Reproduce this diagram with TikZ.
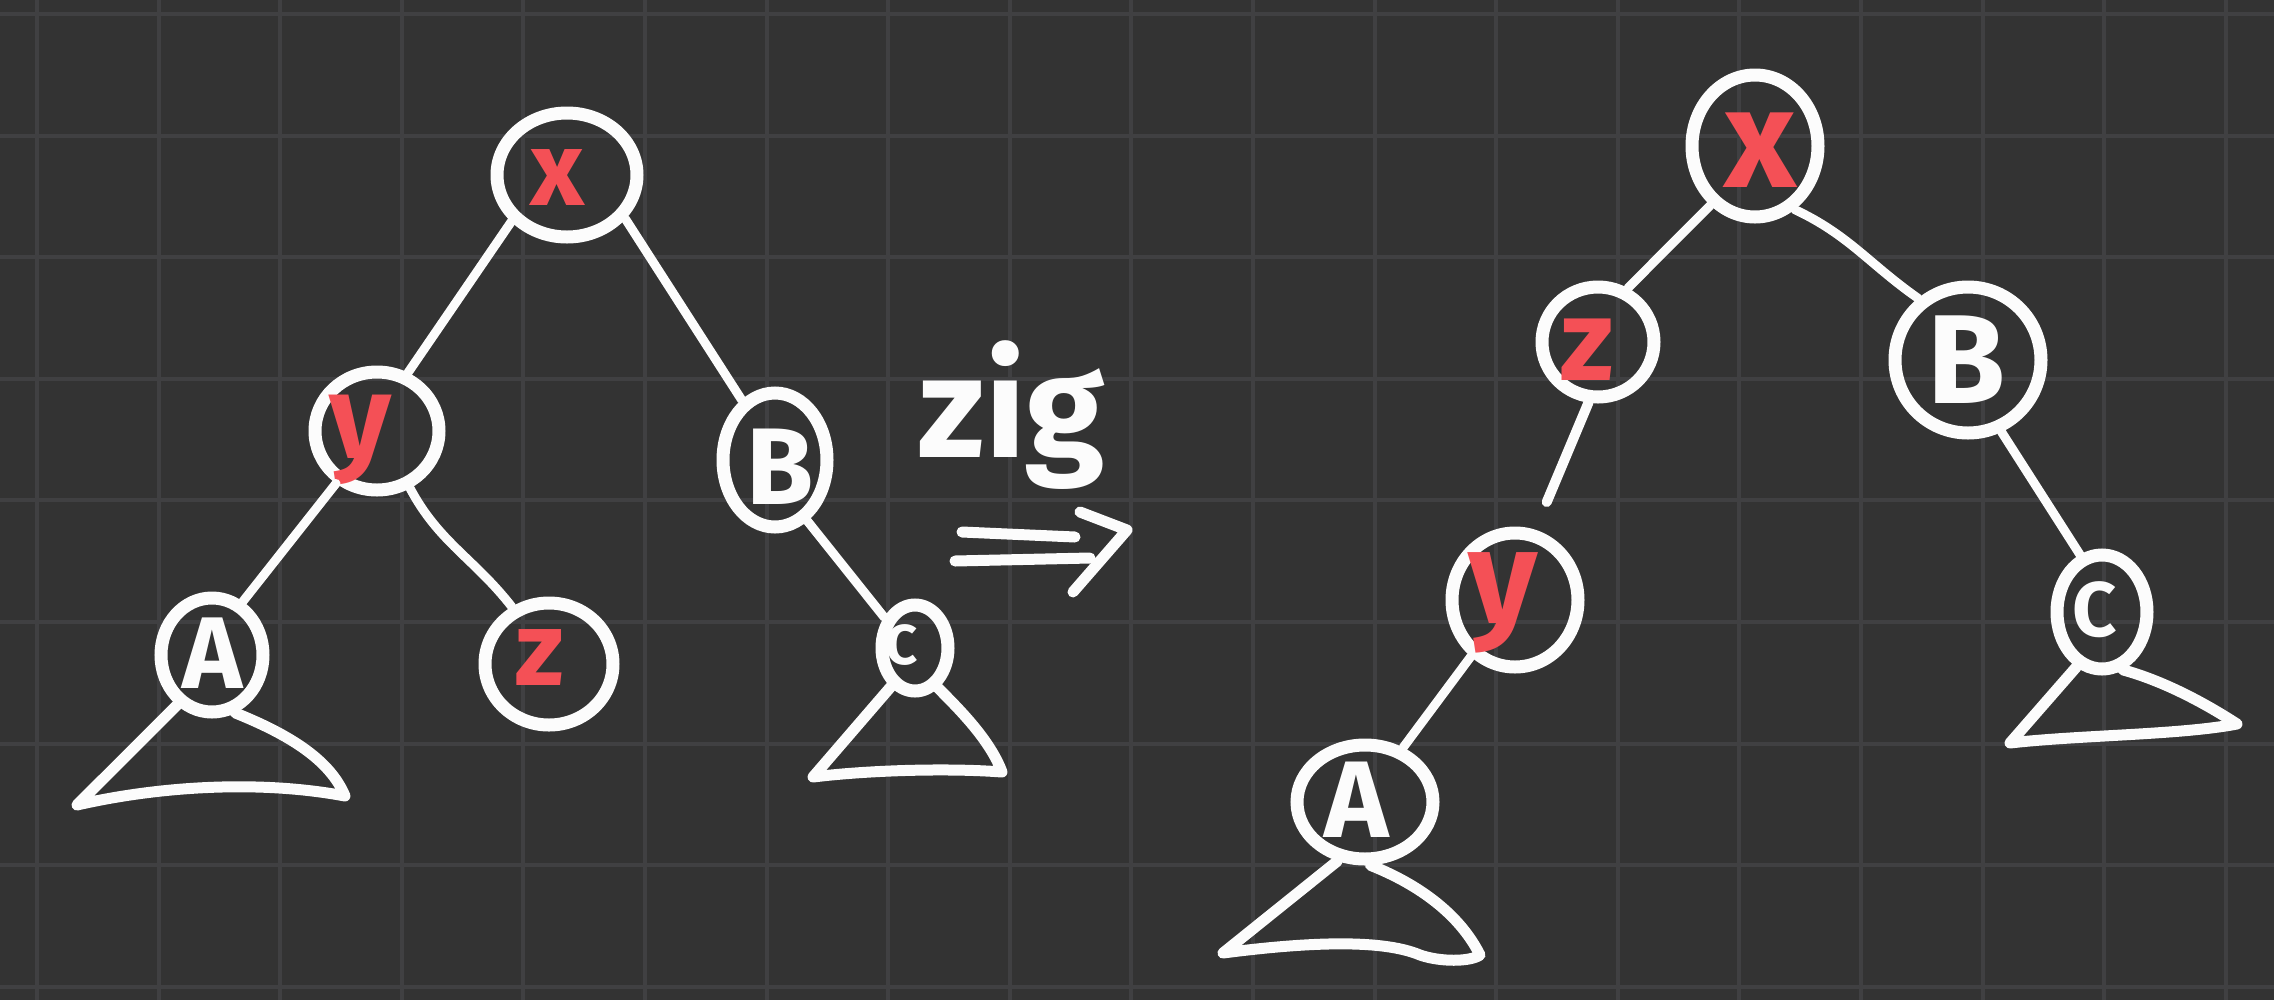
\documentclass[tikz,border=0pt]{standalone}
\usepackage{fontspec}
\setmainfont{Fira Sans}
\usetikzlibrary{shapes.geometric}
\definecolor{bg}{RGB}{51,51,51}
\definecolor{gridc}{RGB}{64,64,66}
\definecolor{chalk}{RGB}{252,252,252}
\definecolor{redink}{RGB}{244,80,86}
\begin{document}
\begin{tikzpicture}[x=0.1mm,y=-0.1mm,
  ring/.style={ellipse, draw=chalk, line width=1.3mm, inner sep=0pt},
  edge/.style={draw=chalk, line width=0.9mm, line cap=round},
  tri/.style={draw=chalk, line width=1.1mm, line cap=round, line join=round},
  redl/.style={text=redink, inner sep=0pt},
  whl/.style={text=chalk, inner sep=0pt},
]
\fill[bg] (0,0) rectangle (2274,1000);
\useasboundingbox (0,0) rectangle (2274,1000);
\foreach \i in {0,...,18} \draw[gridc, line width=0.4mm] ({37+121.6*\i},0) -- ({37+121.6*\i},1000);
\foreach \j in {0,...,8} \draw[gridc, line width=0.4mm] (0,{14+121.6*\j}) -- (2274,{14+121.6*\j});

% ---------- left tree ----------
\node[ring, minimum width=14mm, minimum height=12.4mm] (lx) at (567,175) {};
\node[ring, minimum width=12.4mm, minimum height=11.8mm] (ly) at (377,431) {};
\node[ring, minimum width=12.8mm, minimum height=12.2mm] (lz) at (549,664) {};
\node[ring, minimum width=10.2mm, minimum height=11.4mm] (lA) at (212,655) {};
\node[ring, minimum width=10.4mm, minimum height=13.4mm] (lB) at (775,460) {};
\node[ring, minimum width=6.6mm, minimum height=8.6mm] (lC) at (915,648) {};

\node[redl, font=\fontsize{30}{30}\selectfont\bfseries] (lxt) at (557,177) {x};
\node[redl, font=\fontsize{34}{34}\selectfont\bfseries] (lyt) at (360,440) {y};
\node[redl, font=\fontsize{30}{30}\selectfont\bfseries] (lzt) at (540,657) {z};
\node[whl, font=\fontsize{29}{29}\selectfont\bfseries] (lAt) at (213,653) {A};
\node[whl, font=\fontsize{31}{31}\selectfont\bfseries] (lBt) at (780,467) {B};
\node[whl, font=\fontsize{16}{16}\selectfont\bfseries] (lCt) at (902,645) {C};

\draw[edge] (lx.220) -- (ly.62);
\draw[edge] (lx.323) -- (lB.119);
\draw[edge] (ly.300) to[out=-62, in=128] (lz.123);
\draw[edge] (ly.232) -- (lA.60);
\draw[edge] (lB.298) -- (lC.135);

\coordinate (lAbl) at (77,805);
\coordinate (lAbr) at (345,796);
\draw[tri] (lA.235) -- (lAbl) .. controls (160,786) and (260,780) .. (lAbr) .. controls (330,760) and (290,735) .. (lA.292);
\coordinate (lCbl) at (813,777);
\coordinate (lCbr) at (1002,772);
\draw[tri] (lC.238) -- (lCbl) .. controls (870,770) and (950,768) .. (lCbr) .. controls (990,740) and (960,710) .. (lC.300);

% ---------- zig => ----------
\node[whl, anchor=base, font=\fontsize{41}{41}\selectfont\bfseries] (zig) at (1012,457) {zig};
\coordinate (a1) at (962,532);
\coordinate (a2) at (1075,537);
\coordinate (a3) at (955,561);
\coordinate (a4) at (1090,558);
\coordinate (a5) at (1080,512);
\coordinate (a6) at (1127,530);
\coordinate (a7) at (1073,592);
\draw[tri] (a1) -- (a2);
\draw[tri] (a3) -- (a4);
\draw[tri] (a5) -- (a6) -- (a7);

% ---------- right tree ----------
\node[ring, minimum width=12.6mm, minimum height=14.2mm] (rx) at (1755,146) {};
\node[ring, minimum width=11.2mm, minimum height=11mm] (rz) at (1598,342) {};
\node[ring, minimum width=12.6mm, minimum height=13.4mm] (ry) at (1515,600) {};
\node[ring, minimum width=13.6mm, minimum height=11.4mm] (rA) at (1365,802) {};
\node[ring, minimum width=14.6mm, minimum height=14.6mm] (rB) at (1968,360) {};
\node[ring, minimum width=9mm, minimum height=11.4mm] (rC) at (2102,612) {};

\node[redl, font=\fontsize{40}{40}\selectfont\bfseries] (rxt) at (1760,150) {x};
\node[redl, font=\fontsize{33}{33}\selectfont\bfseries] (rzt) at (1587,350) {z};
\node[redl, font=\fontsize{38}{38}\selectfont\bfseries] (ryt) at (1503,603) {y};
\node[whl, font=\fontsize{31}{31}\selectfont\bfseries] (rAt) at (1357,800) {A};
\node[whl, font=\fontsize{36}{36}\selectfont\bfseries] (rBt) at (1967,360) {B};
\node[whl, font=\fontsize{22}{22}\selectfont\bfseries] (rCt) at (2095,610) {C};

\draw[edge] (rx.233) -- (rz.61);
\draw[edge, line width=1mm, shorten >=3mm] (rz.261) -- (ry.74);
\draw[edge] (ry.232) -- (rA.55);
\draw[edge] (rx.302) to[out=-25, in=145] (rB.129);
\draw[edge] (rB.295) -- (rC.111);

\coordinate (rAbl) at (1223,953);
\coordinate (rAbr) at (1480,955);
\draw[tri] (rA.245) -- (rAbl) .. controls (1300,943) and (1380,938) .. (1420,955) .. controls (1440,962) and (1470,962) .. (rAbr) .. controls (1460,915) and (1420,885) .. (rA.275);
\coordinate (rCbl) at (2010,743);
\coordinate (rCbr) at (2237,724);
\draw[tri] (rC.245) -- (rCbl) .. controls (2080,735) and (2180,735) .. (rCbr) .. controls (2200,700) and (2160,680) .. (rC.290);
\end{tikzpicture}
\end{document}
